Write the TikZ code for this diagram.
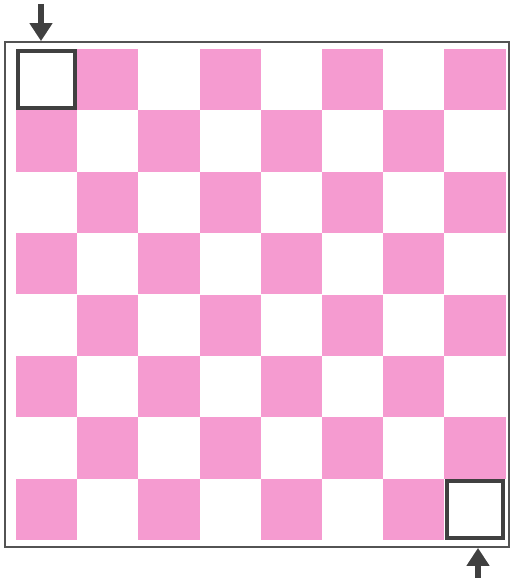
\documentclass[tikz,border=0pt]{standalone}
\usepackage{tikz}
\usetikzlibrary{arrows.meta,positioning,calc}
\definecolor{boardpink}{RGB}{245,155,208}
\definecolor{framegray}{RGB}{64,64,64}

\begin{document}
\begin{tikzpicture}[
    x=1pt, y=-1pt,
    cell/.style={rectangle, minimum size=61.2pt, inner sep=0pt, outer sep=0pt},
    pinkcell/.style={cell, fill=boardpink},
    whitecell/.style={cell, fill=white},
    marked/.style={rectangle, draw=framegray, line width=3.8pt, minimum size=56.5pt, inner sep=0pt},
    border/.style={rectangle, draw=framegray!90, line width=1.8pt, inner sep=0pt},
    pointer/.style={-{Triangle[length=18pt,width=22pt]}, line width=6pt, framegray}
]
\useasboundingbox (0,0) rectangle (510,578);

% ============ board ============
\node[border, minimum width=504pt, minimum height=505pt] (board) at (257,294.5) {};

\foreach \i in {0,...,7} {
  \foreach \j in {0,...,7} {
    \pgfmathtruncatemacro{\parity}{mod(\i+\j,2)}
    \ifnum\parity=1
      \node[pinkcell] (sq-\i-\j) at ({46.6+61.2*\j},{79.6+61.4*\i}) {};
    \else
      \node[whitecell] (sq-\i-\j) at ({46.6+61.2*\j},{79.6+61.4*\i}) {};
    \fi
  }
}

% ============ start and end squares ============
\node[marked] (start) at (sq-0-0) {};
\node[marked] (finish) at (sq-7-7) {};

% ============ pointers ============
\coordinate (start-in) at (41,4);
\coordinate (finish-in) at (478,578);
\draw[pointer] (start-in) -- (start-in |- board.north);
\draw[pointer] (finish-in) -- (finish-in |- board.south);

\end{tikzpicture}
\end{document}
